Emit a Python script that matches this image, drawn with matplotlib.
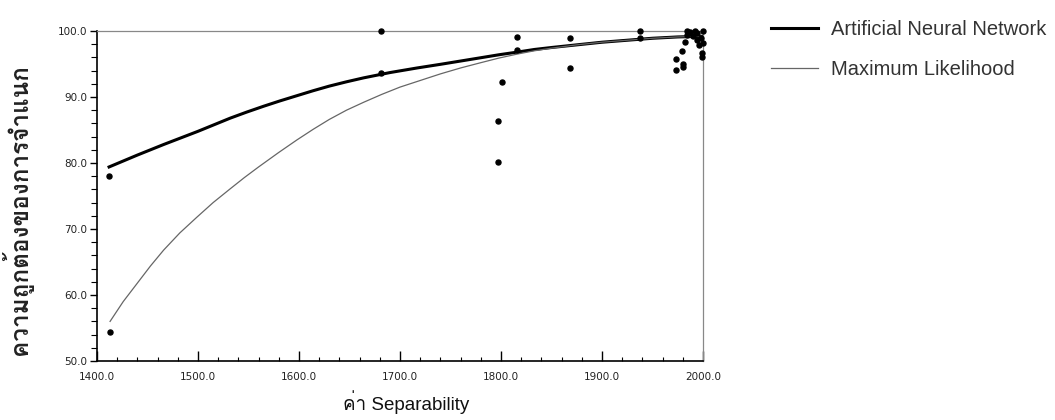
import numpy as np
import matplotlib
matplotlib.use('Agg')
import matplotlib.pyplot as plt
from matplotlib import font_manager
from matplotlib.ft2font import FT2Font
from matplotlib.ticker import MultipleLocator, FormatStrFormatter

# values
ann_x = [1412, 1426, 1440, 1453, 1466, 1483, 1500, 1516, 1532, 1548, 1565, 1581, 1598, 1614,
         1630, 1647, 1664, 1690, 1717, 1740, 1760, 1780, 1798, 1816, 1833, 1850, 1875, 1900,
         1925, 1950, 1975, 2000]
ann_y = [79.4, 80.3, 81.2, 82.0, 82.8, 83.8, 84.8, 85.8, 86.8, 87.7, 88.6, 89.4, 90.2, 90.95,
         91.65, 92.3, 92.9, 93.7, 94.4, 94.95, 95.45, 95.95, 96.4, 96.8, 97.2, 97.5, 97.9, 98.3,
         98.6, 98.9, 99.1, 99.2]

ml_x = [1413, 1426, 1440, 1453, 1466, 1482, 1499, 1515, 1532, 1546, 1560, 1580, 1598, 1614,
        1630, 1647, 1664, 1682, 1700, 1720, 1740, 1760, 1780, 1798, 1816, 1833, 1850, 1875,
        1900, 1925, 1950, 1975, 2000]
ml_y = [56.0, 59.0, 61.8, 64.4, 66.8, 69.4, 71.8, 74.0, 76.1, 77.8, 79.4, 81.6, 83.5, 85.1,
        86.6, 88.0, 89.2, 90.4, 91.5, 92.5, 93.5, 94.4, 95.2, 95.9, 96.5, 97.0, 97.4, 97.9,
        98.3, 98.6, 98.9, 99.1, 99.2]

pts_x = [1412, 1413, 1681, 1681, 1797, 1797, 1801, 1816, 1816, 1868, 1868, 1938, 1938,
         1973, 1973, 1979, 1980, 1980, 1982, 1984, 1984, 1987, 1990, 1992, 1994, 1994,
         1996, 1998, 1999, 1999, 2000, 2000]
pts_y = [78.1, 54.4, 100.0, 93.6, 80.1, 86.3, 92.2, 97.1, 99.1, 94.4, 98.9, 100.0, 99.0,
         94.1, 95.8, 97.0, 95.0, 94.6, 98.4, 100.0, 99.4, 99.8, 99.3, 100.0, 99.7, 98.6,
         97.9, 99.0, 96.6, 96.1, 100.0, 98.2]

xlabel = 'ค่า Separability'
ylabel = 'ความถูกต้องของการจำแนก'

# look for a font that has thai glyphs
thai_fonts = []
for f in font_manager.fontManager.ttflist:
    try:
        if ord('ก') in FT2Font(f.fname).get_charmap():
            thai_fonts.append(f.name)
    except Exception:
        pass
families = ['Liberation Sans'] + thai_fonts[:1] + ['DejaVu Sans']
plt.rcParams['font.family'] = families

fig = plt.figure(figsize=(10.55, 4.2), dpi=100)
ax = fig.add_axes([0.0919, 0.1405, 0.5745, 0.7857])

ax.plot(ann_x, ann_y, color='black', lw=2.2, label='Artificial Neural Network', zorder=3)
ax.plot(ml_x, ml_y, color='#666666', lw=0.9, label='Maximum Likelihood', zorder=3)
ax.plot(pts_x, pts_y, 'o', color='black', ms=3.6, clip_on=False, zorder=4)

ax.set_xlim(1400, 2000)
ax.set_ylim(50, 100)

ax.xaxis.set_major_locator(MultipleLocator(100))
ax.xaxis.set_minor_locator(MultipleLocator(20))
ax.yaxis.set_major_locator(MultipleLocator(10))
ax.yaxis.set_minor_locator(MultipleLocator(2))
ax.xaxis.set_major_formatter(FormatStrFormatter('%.1f'))
ax.yaxis.set_major_formatter(FormatStrFormatter('%.1f'))

tick_font = ['Liberation Sans Narrow', 'DejaVu Sans']
ax.tick_params(axis='x', which='major', direction='in', length=7, width=1, pad=8)
ax.tick_params(axis='x', which='minor', direction='in', length=3, width=0.8)
ax.tick_params(axis='y', which='major', direction='out', length=5, width=1, pad=2)
ax.tick_params(axis='y', which='minor', direction='out', length=4, width=0.8)
for lab in ax.get_xticklabels() + ax.get_yticklabels():
    lab.set_family(tick_font)
    lab.set_fontsize(7.5)
    lab.set_color('#222222')

for s in ['left', 'bottom']:
    ax.spines[s].set_linewidth(1.2)
for s in ['top', 'right']:
    ax.spines[s].set_linewidth(0.9)
    ax.spines[s].set_color('#888888')

fig.text(0.385, 0.043, xlabel, fontsize=13.5, ha='center', va='center', color='#111111')
fig.text(0.016, 0.50, ylabel, fontsize=17.5, fontweight='bold', rotation=90,
         ha='center', va='center', color='#222222')

leg = ax.legend(loc='upper left', bbox_to_anchor=(0.731, 0.952), bbox_transform=fig.transFigure,
                frameon=False, fontsize=14.5, handlelength=2.3, handletextpad=0.65,
                labelspacing=1.05, borderpad=0, borderaxespad=0)
for t in leg.get_texts():
    t.set_color('#333333')

fig.savefig('out.png', dpi=100)
